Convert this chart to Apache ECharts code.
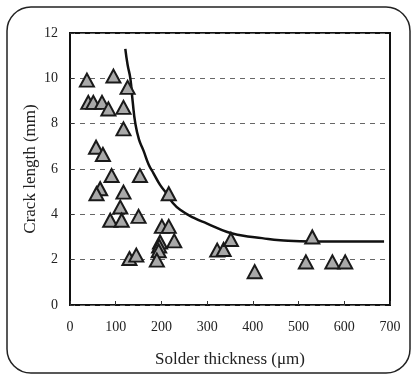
<!DOCTYPE html>
<html>
<head>
<meta charset="utf-8">
<script src="https://cdn.jsdelivr.net/npm/echarts@6/dist/echarts.min.js"></script>
<style>
  html, body { margin: 0; padding: 0; background: #fff; }
  #chart { width: 413px; height: 377px; }
</style>
</head>
<body>
<div id="chart"></div>
<script>
// measured points: [solder thickness (um), crack length (mm)]
const measured = [
  [37, 9.92], [95, 10.1], [126, 9.6],
  [40, 8.94], [51, 8.94], [70, 8.94], [84, 8.65], [117, 8.72],
  [117, 7.77], [57, 6.96], [72, 6.64],
  [91, 5.71], [153, 5.71], [66, 5.13], [58, 4.91], [117, 4.98], [216, 4.91],
  [110, 4.32], [88, 3.74], [113, 3.74], [150, 3.91],
  [201, 3.47], [216, 3.47], [197, 2.78], [195, 2.6], [228, 2.83],
  [194, 2.39], [190, 1.98], [130, 2.05], [145, 2.2],
  [322, 2.42], [336, 2.45], [352, 2.89], [404, 1.47],
  [530, 3.0], [516, 1.9], [574, 1.9], [602, 1.9]
];

// fitted trend line
const trend = [
  [121, 11.3], [126, 10.6], [132, 10.0], [137, 9.0], [143, 8.0],
  [151, 7.3], [161, 6.8], [172, 6.2], [183, 5.8], [197, 5.3],
  [212, 4.9], [225, 4.5], [241, 4.2], [270, 3.85], [300, 3.59],
  [344, 3.22], [373, 3.08], [420, 2.95], [460, 2.86], [530, 2.8],
  [600, 2.8], [687, 2.8]
];

const serif = '"Liberation Serif", "DejaVu Serif", serif';

const chart = echarts.init(document.getElementById('chart'));
chart.setOption({
  animation: false,
  backgroundColor: '#fff',
  graphic: [
    {
      type: 'rect',
      shape: { x: 7, y: 7, width: 403, height: 366, r: 24 },
      style: { fill: 'none', stroke: '#222', lineWidth: 1.5 },
      z: -1
    }
  ],
  grid: {
    left: 70, right: 23, top: 33, bottom: 72,
    show: true, borderColor: '#111', borderWidth: 2
  },
  xAxis: {
    type: 'value', min: 0, max: 700, interval: 100,
    name: 'Solder thickness (\u03bcm)',
    nameLocation: 'middle', nameGap: 46,
    nameTextStyle: { fontFamily: serif, fontSize: 17, color: '#222' },
    axisLine: { show: false },
    axisTick: { show: true, inside: true, length: 4, lineStyle: { color: '#333' } },
    axisLabel: { fontFamily: serif, fontSize: 14, color: '#222', margin: 15 },
    splitLine: { show: false }
  },
  yAxis: {
    type: 'value', min: 0, max: 12, interval: 2,
    name: 'Crack length (mm)',
    nameLocation: 'middle', nameGap: 31, nameMoveOverlap: false,
    nameTextStyle: { fontFamily: serif, fontSize: 17, color: '#222' },
    axisLine: { show: false },
    axisTick: { show: true, inside: true, length: 4, lineStyle: { color: '#333' } },
    axisLabel: { fontFamily: serif, fontSize: 14, color: '#222', margin: 12 },
    splitLine: { show: true, lineStyle: { color: '#666', type: [5, 5], width: 1 } }
  },
  series: [
    {
      type: 'line',
      data: trend,
      smooth: true,
      showSymbol: false,
      lineStyle: { color: '#111', width: 2.5 },
      z: 2
    },
    {
      type: 'scatter',
      data: measured,
      symbol: 'triangle',
      symbolSize: [14, 13],
      itemStyle: { color: '#a9a9a9', borderColor: '#1a1a1a', borderWidth: 2, opacity: 1 },
      z: 3
    }
  ]
});
</script>
</body>
</html>
